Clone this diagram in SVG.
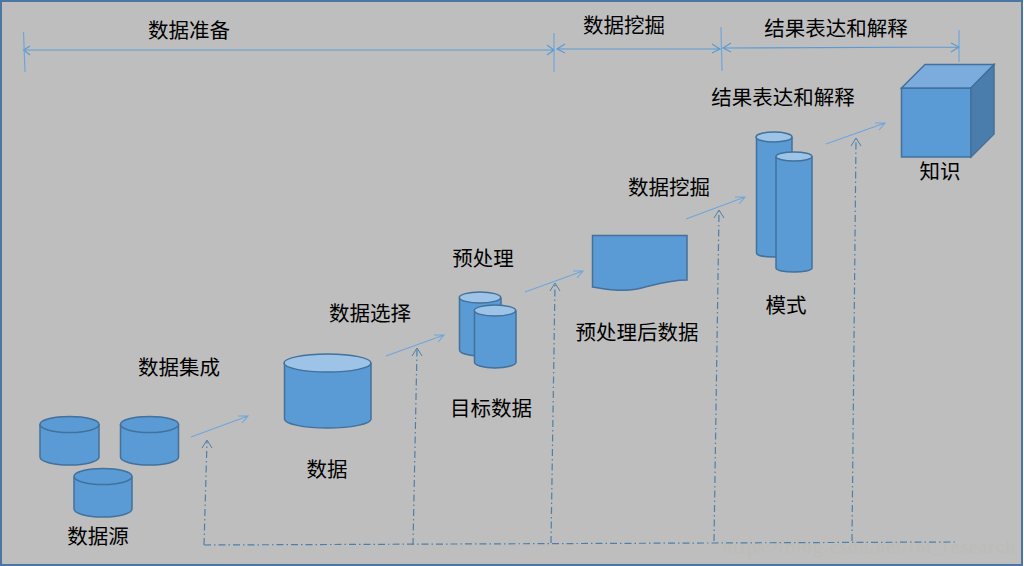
<svg xmlns="http://www.w3.org/2000/svg" width="1024" height="566" viewBox="0 0 1024 566">
<style>
.body{fill:#5b9bd5;stroke:#41719c;stroke-width:1.5}
.top{fill:#5b9bd5;stroke:#41719c;stroke-width:1.5}
.lite{fill:#9dc3e6;stroke:#41719c;stroke-width:1.5}
.lbl{font-family:"Noto Sans CJK SC","Liberation Sans",sans-serif;font-size:20.500px;font-weight:400;fill:#000;text-anchor:middle}
.flow{fill:none;stroke:#6ea6dc;stroke-width:1.100}
.span{fill:none;stroke:#5b9bd5;stroke-width:1.200}
.tick{fill:none;stroke:#6ea6dc;stroke-width:1.200}
.dash{fill:none;stroke:#4f7fa8;stroke-width:1.200;stroke-dasharray:7 3 1.500 3}
.head{fill:none;stroke:#4f7fa8;stroke-width:1}
</style>
<rect x="1" y="1" width="1021" height="564" fill="#bebebe" stroke="#4a75a5" stroke-width="2"/>
<text x="723" y="553" font-family="Liberation Serif,serif" font-size="19" fill="#bcbcb7" textLength="292" lengthAdjust="spacing">https://blog.csdn.net/iot_research</text>

<g id="connectors">
<path class="span" d="M23.500 50H554M30 46L23.500 50L30 55M547 45L554 50L547 55"/>
<path class="span" d="M557 49H720M565 44L557 49L565 53M712 44L720 49L712 53"/>
<path class="span" d="M723 48L959 47M731 43L723 48L731 52M951 43L959 47L951 52"/>
<path class="tick" d="M23.500 32L25 72M554 33V72M721 27L722 71M959 30V62"/>
<path class="flow" d="M191 437L248 416M238 416L248 416L242 423"/>
<path class="flow" d="M386 356L444 335M434 335L444 335L438 342"/>
<path class="flow" d="M525 292L583 271M573 271L583 271L577 278"/>
<path class="flow" d="M686 219L745 197M735 197L745 197L739 204"/>
<path class="flow" d="M826 144L885 123M875 123L885 123L879 130"/>
<path class="dash" d="M204 545L956 542"/>
<path class="dash" d="M204 545L207 441"/>
<path class="head" d="M202 448L207 440L212 448"/>
<path class="dash" d="M413 545L417 349"/>
<path class="head" d="M412 356L417 348L422 356"/>
<path class="dash" d="M551 543L555 284"/>
<path class="head" d="M550 291L555 283L560 291"/>
<path class="dash" d="M714 541L719 211"/>
<path class="head" d="M714 218L719 210L724 218"/>
<path class="dash" d="M852 541L856 139"/>
<path class="head" d="M851 146L856 138L861 146"/>
</g>

<g id="source-1">
<path class="body" d="M40 424V457C40 461.500 53 465 69.500 465S99 461.500 99 457V424"/>
<ellipse class="top" cx="69.500" cy="424.500" rx="29.500" ry="8"/>
</g>
<g id="source-2">
<path class="body" d="M120.500 424V457C120.500 461.500 133 465 149.500 465S178.500 461.500 178.500 457V424"/>
<ellipse class="top" cx="149.500" cy="424.500" rx="29" ry="8"/>
</g>
<g id="source-3">
<path class="body" d="M74 476.500V509C74 513.500 87 517 103 517S132 513.500 132 509V476.500"/>
<ellipse class="top" cx="103" cy="476.500" rx="29" ry="8"/>
<text class="lbl" x="98" y="544">数据源</text>
</g>
<g id="data">
<path class="body" d="M284.500 363V419C284.500 424 304 428 327.500 428S371 424 371 419V363"/>
<ellipse class="lite" cx="327.500" cy="363" rx="43.500" ry="9"/>
<text class="lbl" x="327" y="477">数据</text>
</g>
<g id="target-data">
<path class="body" d="M459.500 297.500V350C459.500 353.500 469 356 480 356S501 353.500 501 350V297.500"/>
<ellipse class="lite" cx="480" cy="297.500" rx="20.700" ry="5.500"/>
<path class="body" d="M474.500 310.500V362C474.500 365.500 484 368 495 368S516 365.500 516 362V310.500"/>
<ellipse class="lite" cx="495" cy="310.500" rx="20.700" ry="5.500"/>
<text class="lbl" x="491" y="416">目标数据</text>
</g>
<g id="preprocessed-data">
<path class="body" d="M592.500 235.500H687V280C667 280 652 286 637 289C620 292 605 289 592.500 287Z"/>
<text class="lbl" x="637" y="340">预处理后数据</text>
</g>
<g id="patterns">
<path class="body" d="M756.500 137V253C756.500 255.500 765 257 774 257S792 255.500 792 253V137"/>
<ellipse class="lite" cx="774" cy="137" rx="18" ry="5"/>
<path class="body" d="M776 156.500V268C776 270.500 785 272 794 272S812 270.500 812 268V156.500"/>
<ellipse class="lite" cx="794" cy="156.500" rx="18" ry="4.500"/>
<text class="lbl" x="786" y="313">模式</text>
</g>
<g id="knowledge">
<rect x="901.500" y="88" width="69.500" height="69" fill="#5b9bd5" stroke="#41719c" stroke-width="1.5"/>
<path d="M901.500 88L925 64.500H994L971 88Z" fill="#7cacde" stroke="#41719c" stroke-width="1.500"/>
<path d="M971 88L994 64.500V134L971 157Z" fill="#4a7cac" stroke="#41719c" stroke-width="1.500"/>
<text class="lbl" x="940" y="179">知识</text>
</g>

<g id="labels">
<text class="lbl" x="189" y="38">数据准备</text>
<text class="lbl" x="624" y="33">数据挖掘</text>
<text class="lbl" x="836" y="36">结果表达和解释</text>
<text class="lbl" x="783" y="105">结果表达和解释</text>
<text class="lbl" x="669" y="195">数据挖掘</text>
<text class="lbl" x="483" y="266">预处理</text>
<text class="lbl" x="370" y="321">数据选择</text>
<text class="lbl" x="179" y="375">数据集成</text>
</g>
</svg>
